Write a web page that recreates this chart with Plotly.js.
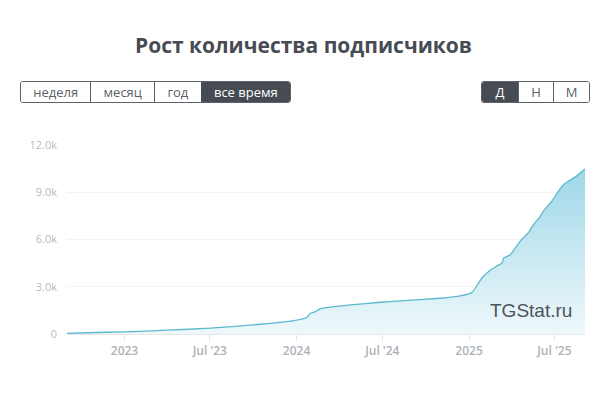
<!DOCTYPE html>
<html>
<head>
<meta charset="utf-8">
<script src="https://cdn.plot.ly/plotly-3.0.1.min.js"></script>
<style>
  html, body { margin: 0; padding: 0; background: #fff; }
  #wrap { position: relative; width: 607px; height: 393px; overflow: hidden; }
  #chart { position: absolute; left: 0; top: 0; width: 607px; height: 393px; }
  .grp { position: absolute; display: flex; height: 22px; border: 1px solid #5d6269; border-radius: 3px; overflow: hidden; font-family: "Open Sans", sans-serif; font-size: 13px; z-index: 2; box-sizing: border-box; }
  .grp div { display: flex; align-items: center; justify-content: center; color: #5a5f66; background: #fff; border-left: 1px solid #5d6269; box-sizing: border-box; }
  .grp div:first-child { border-left: none; }
  .grp div.on { background: #464b53; color: #fff; border-left-color: #464b53; }
</style>
</head>
<body>
<div id="wrap">
  <div id="chart"></div>
  <div class="grp" id="periods" style="left:20px; top:81px; width:271px;"></div>
  <div class="grp" id="scales" style="left:481px; top:81px; width:109px;"></div>
</div>
<script>
// ---- data ----
var dates = [
  "2022-09-01","2022-10-15","2023-01-01","2023-04-01","2023-07-02","2023-10-16",
  "2023-12-26","2024-01-23","2024-01-30","2024-02-10","2024-02-20","2024-03-20",
  "2024-04-24","2024-06-27","2024-08-08","2024-11-01","2024-12-13","2025-01-07",
  "2025-01-14","2025-01-28","2025-02-11","2025-03-01","2025-03-12","2025-03-15",
  "2025-03-29","2025-04-09","2025-04-23","2025-05-07","2025-05-14","2025-05-21",
  "2025-06-01","2025-06-08","2025-06-16","2025-06-25","2025-07-06","2025-07-17",
  "2025-07-28","2025-08-14","2025-09-04"
];
var subscribers = [
  40, 80, 140, 240, 370, 620,
  850, 1050, 1315, 1420, 1600, 1735,
  1845, 2015, 2100, 2270, 2415, 2625,
  2905, 3540, 3960, 4320, 4495, 4810,
  5020, 5450, 6020, 6440, 6785, 7075,
  7460, 7820, 8095, 8410, 8900, 9365,
  9645, 9960, 10470
];
var xTickVals = ["2023-01-01","2023-07-01","2024-01-01","2024-07-01","2025-01-01","2025-07-01"];
var xTickText = ["2023","Jul '23","2024","Jul '24","2025","Jul '25"];
var yTickVals = [0, 3000, 6000, 9000, 12000];
var yTickText = ["0","3.0k","6.0k","9.0k","12.0k"];
var periodLabels = ["неделя","месяц","год","все время"];
var periodWidths = [70, 64, 47, 90];
var scaleLabels = ["Д","Н","М"];
var titleText = "Рост количества подписчиков";
var watermark = "TGStat.ru";

// ---- buttons ----
function buildGroup(id, labels, widths, active) {
  var g = document.getElementById(id);
  labels.forEach(function (t, i) {
    var d = document.createElement("div");
    d.textContent = t;
    d.style.width = (widths ? widths[i] : 36) + "px";
    if (i === active) d.className = "on";
    g.appendChild(d);
  });
}
buildGroup("periods", periodLabels, periodWidths, 3);
buildGroup("scales", scaleLabels, null, 0);

// ---- chart ----
var trace = {
  type: "scatter",
  mode: "lines",
  x: dates,
  y: subscribers,
  line: { color: "#5bb9cd", width: 1.3, shape: "spline", smoothing: 0.4 },
  fill: "tozeroy",
  fillgradient: {
    type: "vertical",
    colorscale: [[0, "#eef8fb"], [1, "#9fd7e8"]]
  },
  hoverinfo: "skip"
};

var layout = {
  width: 607,
  height: 393,
  margin: { l: 67, r: 22, t: 145, b: 59 },
  paper_bgcolor: "#ffffff",
  plot_bgcolor: "#ffffff",
  showlegend: false,
  title: {
    text: titleText,
    x: 0.5, xref: "container", xanchor: "center",
    y: 0.885, yref: "container", yanchor: "middle",
    font: { family: "Open Sans, sans-serif", size: 21, color: "#474c54", weight: 700 }
  },
  xaxis: {
    type: "date",
    range: [dates[0], dates[dates.length - 1]],
    tickvals: xTickVals,
    ticktext: xTickText,
    ticks: "outside",
    ticklen: 6,
    tickcolor: "#e3e5e8",
    showgrid: false,
    showline: true,
    linecolor: "#e6e8ea",
    linewidth: 1,
    zeroline: false,
    tickfont: { family: "Open Sans, sans-serif", size: 12, color: "#aeb2b7", weight: 600 }
  },
  yaxis: {
    range: [0, 12000],
    tickvals: yTickVals,
    ticktext: yTickText,
    showgrid: true,
    gridcolor: "#f2f3f4",
    zeroline: false,
    ticks: "",
    ticklabelstandoff: 9,
    tickfont: { family: "Open Sans, sans-serif", size: 11, color: "#b7bbbf" }
  },
  annotations: [{
    text: watermark,
    xref: "paper", yref: "paper",
    x: 0.895, y: 0.125,
    xanchor: "center", yanchor: "middle",
    showarrow: false,
    font: { family: "Liberation Sans, Arial, sans-serif", size: 19, color: "#4e545a" }
  }]
};

Plotly.newPlot("chart", [trace], layout, { staticPlot: true, displayModeBar: false });
</script>
</body>
</html>
